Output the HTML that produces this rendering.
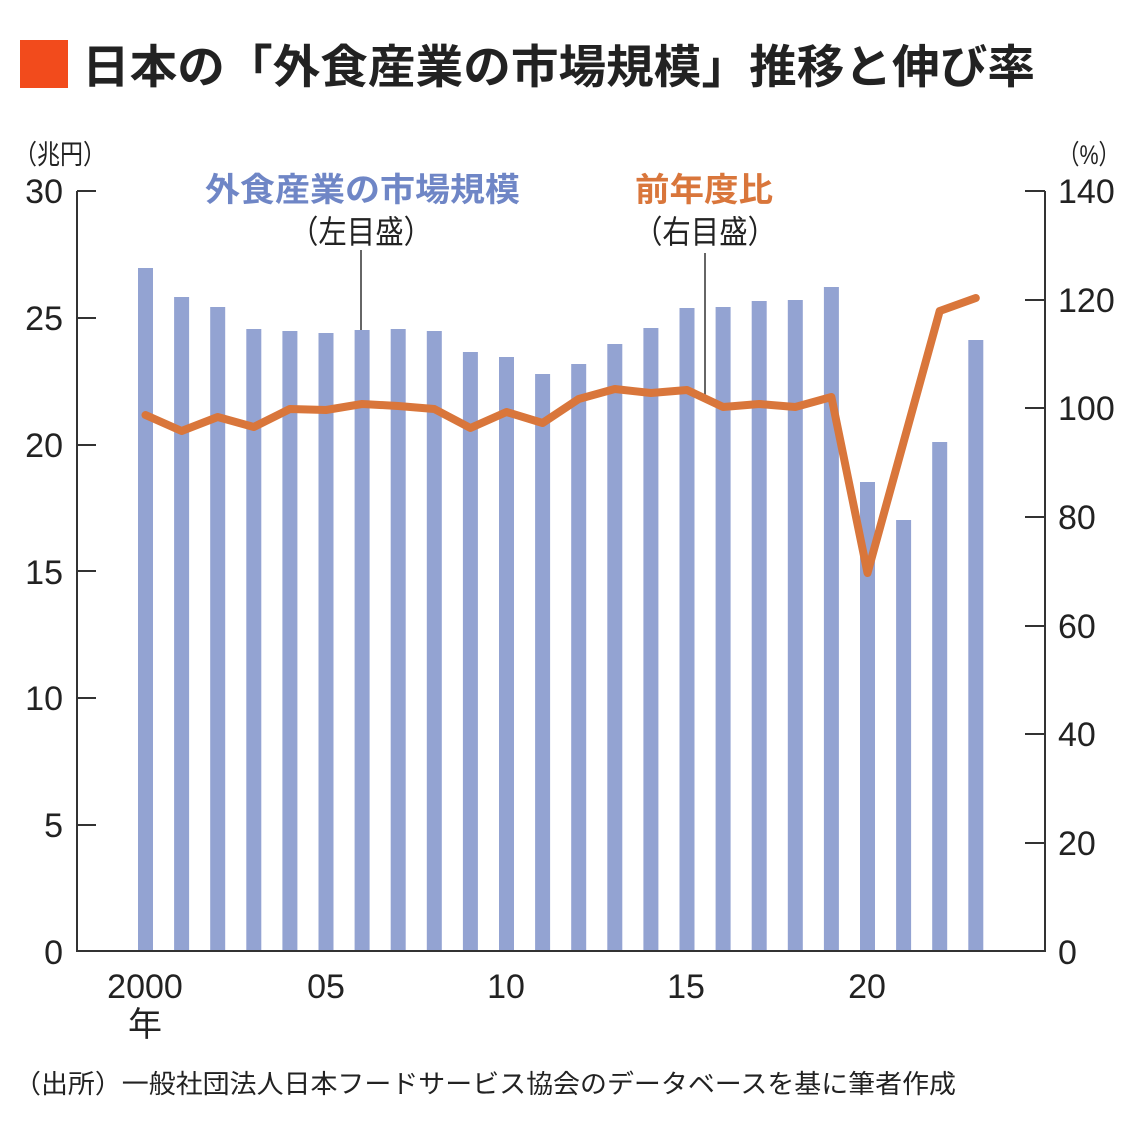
<!DOCTYPE html>
<html><head><meta charset="utf-8"><style>
body{margin:0;background:#fff;width:1140px;height:1130px;overflow:hidden}
svg text{font-family:"Liberation Sans","Noto Sans CJK JP",sans-serif}
</style></head><body>
<svg width="1140" height="1130" xmlns="http://www.w3.org/2000/svg">
<rect x="20" y="40" width="48" height="48" fill="#f24b1c"/>
<text x="82" y="83" font-size="46" font-weight="bold" fill="#222" textLength="953" lengthAdjust="spacingAndGlyphs">日本の「外食産業の市場規模」推移と伸び率</text>
<text x="14" y="164" font-size="27" fill="#222" textLength="92" lengthAdjust="spacingAndGlyphs">（兆円）</text>
<text x="1058" y="164" font-size="27" fill="#222" textLength="62" lengthAdjust="spacingAndGlyphs">（%）</text>
<g font-size="34" fill="#222" text-anchor="end">
<text x="63" y="203">30</text><text x="63" y="330">25</text><text x="63" y="457">20</text>
<text x="63" y="584">15</text><text x="63" y="710">10</text><text x="63" y="837">5</text><text x="63" y="964">0</text>
</g>
<g font-size="34" fill="#222">
<text x="1058" y="203">140</text><text x="1058" y="312">120</text><text x="1058" y="420">100</text>
<text x="1058" y="529">80</text><text x="1058" y="638">60</text><text x="1058" y="746">40</text>
<text x="1058" y="855">20</text><text x="1058" y="964">0</text>
</g>
<g id="bars" fill="#93a3d2"></g>
<g stroke="#333" stroke-width="2" fill="none">
<path d="M77 191V951H1045V191"/>
<path d="M77 191h19M77 318h19M77 445h19M77 571h19M77 698h19M77 825h19"/>
<path d="M1025 191h20M1025 300h20M1025 408h20M1025 517h20M1025 626h20M1025 734h20M1025 843h20"/>
<path d="M361 250V330M705 253V395" stroke-width="1.5"/>
</g>
<polyline id="ln" fill="none" stroke="#d9763b" stroke-width="8" stroke-linejoin="round" stroke-linecap="round"/>
<text x="205" y="201" font-size="33" font-weight="bold" fill="#6f86c6" textLength="315" lengthAdjust="spacingAndGlyphs">外食産業の市場規模</text>
<text x="290" y="243" font-size="32" fill="#222" textLength="142" lengthAdjust="spacingAndGlyphs">（左目盛）</text>
<text x="635" y="201" font-size="33" font-weight="bold" fill="#d9763b" textLength="138" lengthAdjust="spacingAndGlyphs">前年度比</text>
<text x="634" y="243" font-size="32" fill="#222" textLength="142" lengthAdjust="spacingAndGlyphs">（右目盛）</text>
<g font-size="34" fill="#222" text-anchor="middle">
<text x="145" y="998">2000</text><text x="145" y="1036">年</text>
<text x="326" y="998">05</text><text x="506" y="998">10</text><text x="686" y="998">15</text><text x="867" y="998">20</text>
</g>
<text x="14" y="1093" font-size="26" fill="#222" textLength="942" lengthAdjust="spacingAndGlyphs">（出所）一般社団法人日本フードサービス協会のデータベースを基に筆者作成</text>
</svg>
<script>
var tops=[268,297,307,329,331,333,330,329,331,352,357,374,364,344,328,308,307,301,300,287,482,520,442,340];
var ln=[415,431,417,427,409,410,404,406,409,428,412,423,399,389,393,390,407,404,407,397,573,442,311,298];
var g=document.getElementById('bars'),pts=[];
for(var i=0;i<24;i++){var cx=145.5+i*36.1;
var r=document.createElementNS('http://www.w3.org/2000/svg','rect');
r.setAttribute('x',cx-7.5);r.setAttribute('y',tops[i]);r.setAttribute('width',15);r.setAttribute('height',951-tops[i]);g.appendChild(r);
pts.push(cx+','+ln[i]);}
document.getElementById('ln').setAttribute('points',pts.join(' '));
</script>
</body></html>
